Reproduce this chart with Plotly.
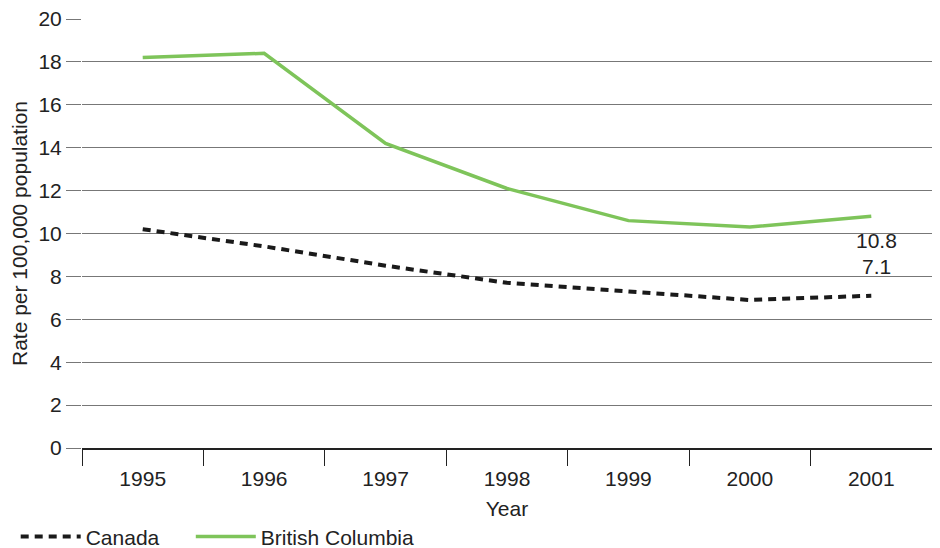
import plotly.graph_objects as go

years = ["1995", "1996", "1997", "1998", "1999", "2000", "2001"]
canada = [10.2, 9.4, 8.5, 7.7, 7.3, 6.9, 7.1]
british_columbia = [18.2, 18.4, 14.2, 12.1, 10.6, 10.3, 10.8]
y_ticks = [0, 2, 4, 6, 8, 10, 12, 14, 16, 18, 20]

green = "rgb(126,196,90)"
ink = "#222222"
fs = 21

fig = go.Figure()
fig.add_trace(go.Scatter(
    x=years, y=canada, name="Canada", mode="lines",
    line=dict(color="#1a1a1a", width=4, dash="8px,6px"),
    legend="legend",
))
fig.add_trace(go.Scatter(
    x=years, y=british_columbia, name="British Columbia", mode="lines",
    line=dict(color=green, width=3.5),
    legend="legend2",
))

# end-of-series value labels (x given as category index)
last = len(years) - 1
fig.add_annotation(x=last, y=british_columbia[-1], text=f"{british_columbia[-1]}",
                   showarrow=False, yshift=-24, xshift=5,
                   font=dict(size=fs, color=ink))
fig.add_annotation(x=last, y=canada[-1], text=f"{canada[-1]}",
                   showarrow=False, yshift=29, xshift=5,
                   font=dict(size=fs, color=ink))

leg = dict(orientation="h", xref="paper", yref="paper",
           y=-0.207, xanchor="left", yanchor="middle",
           font=dict(size=fs), itemwidth=60, bgcolor="rgba(0,0,0,0)")

# page body has an 8px margin, so the figure is sized/offset to compensate
fig.update_layout(
    width=932, height=540,
    margin=dict(l=74, r=8, t=11, b=100, autoexpand=False),
    plot_bgcolor="white", paper_bgcolor="white",
    font=dict(family="Liberation Sans, Arial, sans-serif", size=fs, color=ink),
    showlegend=True,
    legend=dict(leg, x=-0.078),
    legend2=dict(leg, x=0.128),
)
fig.update_xaxes(
    type="category", range=[-0.5, 6.5], tickson="boundaries",
    ticks="outside", ticklen=16, tickcolor=ink, tickwidth=1,
    ticklabelstandoff=11,
    showline=True, linecolor=ink, linewidth=1.5,
    showgrid=False, automargin=False,
    title=dict(text="Year", standoff=12, font=dict(size=fs)),
)
fig.update_yaxes(
    range=[0, 20], tickvals=y_ticks, ticklabeloverflow="allow",
    ticks="outside", ticklen=15, tickcolor="#777", tickwidth=1,
    showline=False, showgrid=True, gridcolor="#777", gridwidth=1,
    zeroline=False, automargin=False,
    title=dict(text="Rate per 100,000 population", standoff=6, font=dict(size=fs)),
)

fig.write_html("out.html")
